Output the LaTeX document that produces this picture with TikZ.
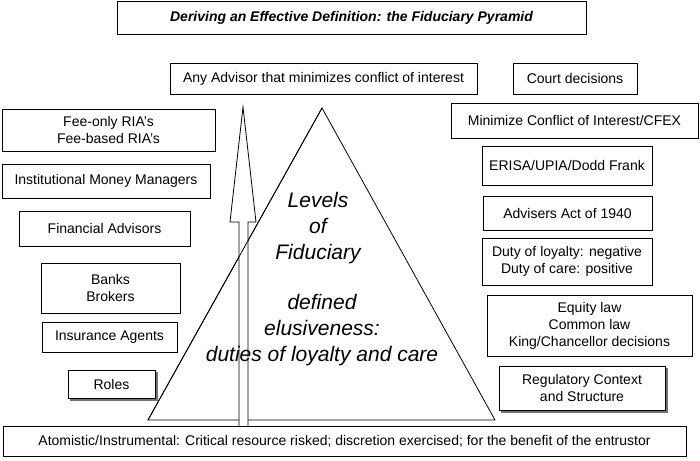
\documentclass[tikz,border=0pt]{standalone}
\usepackage{fontspec}
\setmainfont{Liberation Sans}
\usetikzlibrary{shadows}
\begin{document}
\begin{tikzpicture}[x=1pt,y=-1pt]
\tikzstyle{box}=[rectangle, draw=black, thick, align=center, inner sep=0pt, font=\fontsize{14}{17}\selectfont]
\tikzstyle{shadowed}=[copy shadow={shadow xshift=2.5pt, shadow yshift=-2.5pt, fill=black!55, draw=black!55}, fill=white]
\tikzstyle{big}=[align=center, font=\fontsize{21}{26}\selectfont\itshape]
\useasboundingbox (0,0) rectangle (700,460);
% pyramid and arrow
\coordinate (apex) at (322,108);
\coordinate (bl) at (148,420);
\coordinate (br) at (495,420);
\draw[thick] (apex) -- (bl) -- (br) -- cycle;
\draw[thick, fill=white] (239,428) -- (239,222) -- (230,222) -- (243,107) -- (256,222) -- (248,222) -- (248,428) -- cycle;
\draw[thick] (apex) -- (bl);
\node[big] (levels) at (318,228) {Levels\\of\\Fiduciary};
\node[big] (duties) at (322,330) {defined\\elusiveness:\\duties of loyalty and care};
% title
\node[box, minimum width=469, minimum height=33, font=\fontsize{14}{17}\selectfont\bfseries\itshape] (title) at (351.5,17.5) {Deriving an Effective Definition: the Fiduciary Pyramid};
% top row
\node[box, minimum width=307, minimum height=31] (any) at (323.5,78.5) {Any Advisor that minimizes conflict of interest};
\node[box, minimum width=124, minimum height=31] (court) at (575,78.5) {Court decisions};
% roles
\node[box, minimum width=213, minimum height=42] (fee) at (108.5,130) {Fee-only RIA's\\Fee-based RIA's};
\node[box, minimum width=208, minimum height=34] (inst) at (106,181) {Institutional Money Managers};
\node[box, minimum width=171, minimum height=35] (fin) at (104.5,228.5) {Financial Advisors};
\node[box, minimum width=139, minimum height=50] (banks) at (110.5,288) {Banks\\Brokers};
\node[box, minimum width=135, minimum height=30] (ins) at (109.5,337) {Insurance Agents};
\node[box, shadowed, minimum width=87, minimum height=28] (roles) at (111.5,384) {Roles};
% regulatory context
\node[box, minimum width=247, minimum height=35] (cfex) at (574.5,120.5) {Minimize Conflict of Interest/CFEX};
\node[box, minimum width=170, minimum height=39] (erisa) at (567,165.5) {ERISA/UPIA/Dodd Frank};
\node[box, minimum width=169, minimum height=34] (act) at (567.5,213) {Advisers Act of 1940};
\node[box, minimum width=170, minimum height=47] (duty) at (567,261.5) {Duty of loyalty: negative\\Duty of care: positive};
\node[box, minimum width=205, minimum height=61] (equity) at (589.5,325.5) {Equity law\\Common law\\King/Chancellor decisions};
\node[box, shadowed, minimum width=166, minimum height=44] (reg) at (582,388) {Regulatory Context\\and Structure};
% base
\node[box, fill=white, minimum width=683, minimum height=30] (base) at (344.5,441) {Atomistic/Instrumental: Critical resource risked; discretion exercised; for the benefit of the entrustor};
\end{tikzpicture}
\end{document}
